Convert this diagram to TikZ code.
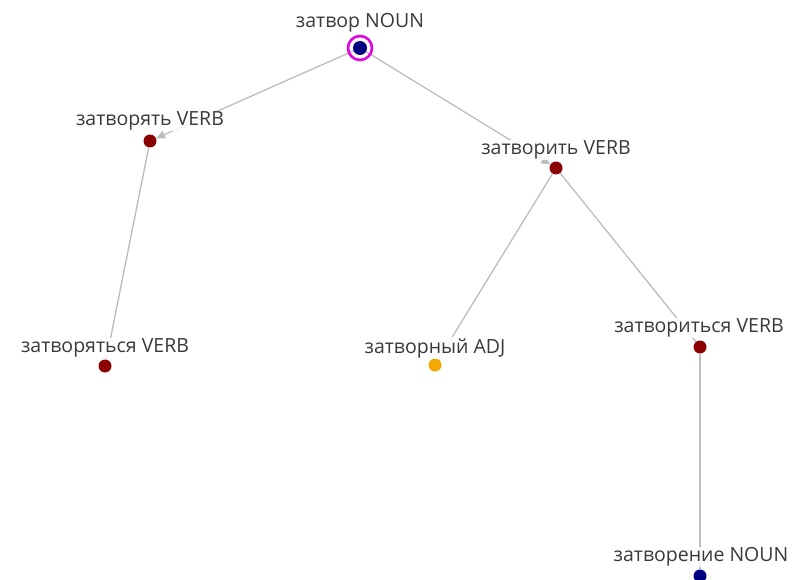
\documentclass[tikz,border=0pt]{standalone}
\usepackage{fontspec}
\setmainfont{Open Sans}
\usetikzlibrary{arrows.meta}
\definecolor{edgec}{HTML}{BDBDBD}
\definecolor{verbc}{HTML}{8B0000}
\definecolor{nounc}{HTML}{000080}
\definecolor{adjc}{HTML}{F2A900}
\definecolor{ringc}{HTML}{E000E0}
\definecolor{txt}{HTML}{3A3A3A}
\tikzset{
  dot/.style={circle, minimum size=13pt, inner sep=0pt},
  lbl/.style={font=\fontsize{19.5}{21}\selectfont, text=txt, inner sep=1pt, fill=white, fill opacity=0.85, text opacity=1},
  edge/.style={draw=edgec, line width=1.3pt},
  arr/.style={edge, -{Triangle[length=9pt,width=8pt]}},
}
\begin{document}
\begin{tikzpicture}[x=1pt,y=-1pt]
\useasboundingbox (0,0) rectangle (795,580);
% nodes (dots)
\node[dot, fill=nounc] (root) at (360,48) {};
\node[dot, fill=verbc] (zvat) at (150,141) {};
\node[dot, fill=verbc] (zvit) at (556,168) {};
\node[dot, fill=verbc] (zvats) at (105,366) {};
\node[dot, fill=adjc] (zadj) at (435,365) {};
\node[dot, fill=verbc] (zvits) at (700,347) {};
\node[dot, fill=nounc] (zn) at (700,576) {};
% edges
\draw[arr] (root) -- (zvat);
\draw[arr] (root) -- (zvit);
\draw[edge] (zvat) -- (zvats);
\draw[edge] (zvit) -- (zadj);
\draw[edge] (zvit) -- (zvits);
\draw[edge] (zvits) -- (zn);
% root ring
\draw[ringc, line width=2.6pt] (root.center) circle (12pt);
\fill[nounc] (root.center) circle (7pt);
% labels
\node[lbl] (lroot) at (360,23) {затвор NOUN};
\node[lbl] (lzvat) at (150,121) {затворять VERB};
\node[lbl] (lzvit) at (556,150) {затворить VERB};
\node[lbl] (lzvats) at (105,348) {затворяться VERB};
\node[lbl] (lzadj) at (435,348) {затворный ADJ};
\node[lbl] (lzvits) at (699,328) {затвориться VERB};
\node[lbl] (lzn) at (701,557) {затворение NOUN};
\end{tikzpicture}
\end{document}
